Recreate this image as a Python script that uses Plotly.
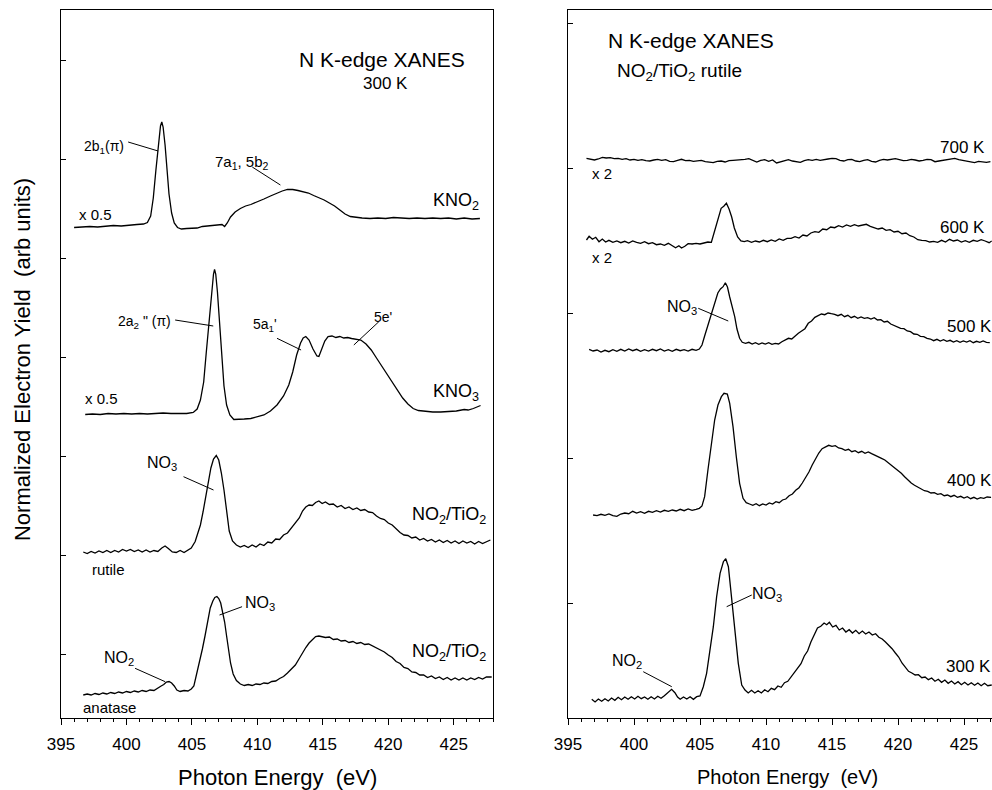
import plotly.graph_objects as go

FONT = "Liberation Sans, Arial, Helvetica, sans-serif"

# ---------------- Left panel data (300 K reference spectra) ----------------
kno2_e = [396.0,396.6,397.2,397.8,398.4,399.0,399.6,400.2,400.8,401.3,
          401.6,401.85,402.05,402.25,402.45,402.6,402.7,402.8,402.95,403.1,
          403.25,403.45,403.65,403.9,404.2,404.6,405.0,405.4,405.8,406.2,
          406.6,407.0,407.3,407.5,407.7,407.95,408.3,408.7,409.1,409.5,
          410.0,410.5,411.0,411.5,411.9,412.3,412.7,413.1,413.5,413.9,
          414.3,414.7,415.1,415.5,415.9,416.3,416.7,417.1,417.5,418.0,
          418.6,419.2,419.8,420.4,421.0,421.6,422.2,422.8,423.4,424.0,
          424.6,425.2,425.8,426.4,427.0]
kno2_y = [4.265,4.27,4.275,4.27,4.28,4.285,4.28,4.29,4.295,4.30,
          4.315,4.38,4.56,4.84,5.12,5.28,5.32,5.27,5.09,4.84,
          4.60,4.41,4.31,4.265,4.25,4.255,4.26,4.26,4.275,4.28,
          4.285,4.295,4.295,4.275,4.31,4.37,4.42,4.455,4.48,4.495,
          4.52,4.55,4.58,4.61,4.63,4.645,4.645,4.635,4.62,4.61,
          4.585,4.565,4.54,4.51,4.48,4.44,4.40,4.375,4.365,4.36,
          4.355,4.36,4.355,4.365,4.36,4.355,4.36,4.355,4.36,4.355,
          4.36,4.35,4.36,4.35,4.355]

kno3_e = [396.85,397.4,398.0,398.6,399.2,399.8,400.4,401.0,401.6,402.2,
          402.8,403.4,404.0,404.6,405.1,405.4,405.65,405.9,406.1,406.3,
          406.5,406.65,406.73,406.82,406.95,407.1,407.25,407.45,407.65,407.9,
          408.2,408.6,409.0,409.5,410.0,410.5,411.0,411.5,412.0,412.4,
          412.7,413.0,413.3,413.5,413.7,413.95,414.25,414.55,414.7,414.9,
          415.15,415.4,415.7,416.0,416.3,416.6,416.9,417.2,417.5,417.9,
          418.3,418.7,419.1,419.5,419.9,420.3,420.7,421.1,421.5,421.9,
          422.3,422.8,423.4,424.0,424.6,425.2,425.8,426.1,426.5,427.05]
kno3_y = [2.395,2.40,2.395,2.405,2.40,2.405,2.40,2.405,2.40,2.405,
          2.41,2.405,2.405,2.405,2.415,2.45,2.54,2.72,3.02,3.32,
          3.64,3.80,3.845,3.80,3.62,3.32,3.02,2.68,2.49,2.39,
          2.345,2.345,2.35,2.355,2.37,2.39,2.43,2.49,2.58,2.69,
          2.82,2.99,3.11,3.16,3.175,3.14,3.05,2.98,2.975,3.04,
          3.13,3.175,3.18,3.165,3.175,3.16,3.165,3.155,3.15,3.14,
          3.10,3.04,2.96,2.88,2.79,2.71,2.63,2.56,2.50,2.455,
          2.435,2.425,2.42,2.42,2.425,2.43,2.445,2.44,2.455,2.485]

rutile_e = [396.7,397.0,397.3,397.6,397.9,398.2,398.5,398.8,399.1,399.4,
            399.7,400.0,400.3,400.6,400.9,401.2,401.5,401.8,402.1,402.4,
            402.7,402.95,403.2,403.5,403.8,404.1,404.4,404.7,404.95,405.25,
            405.45,405.65,405.85,406.05,406.25,406.45,406.65,406.86,407.05,407.25,
            407.45,407.65,407.85,408.1,408.4,408.7,409.0,409.3,409.6,409.9,
            410.2,410.5,410.8,411.1,411.4,411.7,412.0,412.3,412.6,412.9,
            413.2,413.45,413.7,413.95,414.2,414.45,414.7,414.95,415.2,415.5,
            415.8,416.1,416.4,416.7,417.0,417.3,417.6,417.9,418.2,418.5,
            418.8,419.1,419.4,419.7,420.0,420.3,420.6,420.9,421.2,421.5,
            421.8,422.1,422.4,422.7,423.0,423.3,423.6,423.9,424.2,424.5,
            424.8,425.1,425.4,425.7,426.0,426.3,426.6,426.9,427.2,427.5,
            427.8]
rutile_y = [1.02,1.005,1.025,1.01,1.03,1.015,1.035,1.015,1.035,1.02,
            1.045,1.03,1.045,1.025,1.04,1.02,1.04,1.02,1.035,1.025,
            1.06,1.08,1.055,1.02,1.015,1.035,1.015,1.04,1.06,1.125,
            1.20,1.29,1.42,1.57,1.72,1.86,1.95,1.985,1.94,1.81,
            1.64,1.42,1.23,1.13,1.09,1.07,1.085,1.065,1.09,1.07,
            1.10,1.085,1.12,1.11,1.15,1.145,1.19,1.21,1.26,1.30,
            1.36,1.43,1.47,1.49,1.485,1.515,1.53,1.505,1.52,1.495,
            1.50,1.47,1.485,1.455,1.47,1.445,1.46,1.435,1.445,1.42,
            1.415,1.38,1.355,1.345,1.31,1.29,1.25,1.215,1.19,1.185,
            1.16,1.17,1.14,1.155,1.13,1.145,1.12,1.14,1.115,1.135,
            1.11,1.13,1.105,1.13,1.11,1.125,1.10,1.125,1.105,1.125,
            1.14]

anatase_e = [396.7,397.0,397.3,397.6,397.9,398.2,398.5,398.8,399.1,399.4,
             399.7,400.0,400.3,400.6,400.9,401.2,401.5,401.8,402.1,402.4,
             402.65,402.85,403.05,403.25,403.45,403.65,403.85,404.1,404.4,404.7,
             404.95,405.15,405.38,405.6,405.8,406.0,406.2,406.4,406.6,406.75,
             406.91,407.05,407.2,407.35,407.5,407.65,407.8,407.95,408.15,408.4,
             408.7,409.0,409.3,409.6,409.9,410.2,410.5,410.8,411.1,411.4,
             411.7,412.0,412.3,412.6,412.9,413.2,413.45,413.7,413.95,414.2,
             414.45,414.7,414.95,415.2,415.5,415.8,416.1,416.4,416.7,417.0,
             417.3,417.6,417.9,418.2,418.5,418.8,419.1,419.4,419.7,420.0,
             420.3,420.6,420.9,421.2,421.5,421.8,422.1,422.4,422.7,423.0,
             423.3,423.6,423.9,424.2,424.5,424.8,425.1,425.4,425.7,426.0,
             426.3,426.6,426.9,427.2,427.5,427.9]
anatase_y = [-0.41,-0.40,-0.41,-0.395,-0.405,-0.39,-0.40,-0.385,-0.395,-0.38,
             -0.39,-0.375,-0.385,-0.37,-0.38,-0.365,-0.375,-0.36,-0.365,-0.345,
             -0.32,-0.305,-0.28,-0.275,-0.29,-0.32,-0.36,-0.375,-0.365,-0.37,
             -0.35,-0.32,-0.195,-0.07,0.05,0.18,0.33,0.46,0.53,0.565,
             0.575,0.555,0.51,0.43,0.32,0.18,0.04,-0.09,-0.20,-0.265,
             -0.30,-0.315,-0.305,-0.315,-0.30,-0.305,-0.29,-0.295,-0.275,-0.27,
             -0.245,-0.225,-0.19,-0.155,-0.11,-0.045,0.015,0.065,0.11,0.145,
             0.175,0.18,0.175,0.165,0.17,0.145,0.15,0.13,0.135,0.115,
             0.125,0.105,0.115,0.095,0.10,0.08,0.065,0.04,0.02,-0.01,
             -0.035,-0.075,-0.095,-0.135,-0.145,-0.18,-0.185,-0.21,-0.21,-0.235,
             -0.22,-0.245,-0.23,-0.255,-0.235,-0.26,-0.24,-0.26,-0.24,-0.26,
             -0.24,-0.255,-0.235,-0.25,-0.23,-0.23]

# ---------------- Right panel data (NO2/TiO2 rutile vs temperature) ----------------
k700_e = [396.4,396.7,397.0,397.3,397.6,397.9,398.2,398.5,398.8,399.1,
          399.4,399.7,400.0,400.3,400.6,400.9,401.2,401.5,401.8,402.1,
          402.4,402.7,403.0,403.3,403.6,403.9,404.2,404.5,404.8,405.1,
          405.4,405.7,406.0,406.3,406.6,406.9,407.2,407.5,407.8,408.1,
          408.4,408.7,409.0,409.3,409.6,409.9,410.2,410.5,410.8,411.1,
          411.4,411.7,412.0,412.3,412.6,412.9,413.2,413.5,413.8,414.1,
          414.4,414.7,415.0,415.3,415.6,415.9,416.2,416.5,416.8,417.1,
          417.4,417.7,418.0,418.3,418.6,418.9,419.2,419.5,419.8,420.1,
          420.4,420.7,421.0,421.3,421.6,421.9,422.2,422.5,422.8,423.1,
          423.4,423.7,424.0,424.3,424.6,424.9,425.2,425.5,425.8,426.1,
          426.4,426.7,427.0]
k700_y = [4.447,4.437,4.43,4.44,4.457,4.45,4.453,4.443,4.447,4.437,
          4.443,4.43,4.437,4.427,4.433,4.423,4.42,4.43,4.437,4.427,
          4.433,4.417,4.413,4.427,4.437,4.423,4.427,4.417,4.42,4.427,
          4.413,4.407,4.403,4.417,4.42,4.41,4.423,4.427,4.43,4.427,
          4.437,4.443,4.423,4.41,4.427,4.433,4.417,4.43,4.40,4.413,
          4.427,4.433,4.42,4.413,4.407,4.423,4.433,4.427,4.437,4.427,
          4.437,4.44,4.447,4.443,4.427,4.42,4.433,4.437,4.42,4.413,
          4.427,4.433,4.417,4.41,4.427,4.437,4.43,4.44,4.443,4.433,
          4.423,4.427,4.437,4.43,4.42,4.427,4.437,4.433,4.413,4.42,
          4.427,4.437,4.443,4.447,4.433,4.427,4.42,4.41,4.403,4.417,
          4.413,4.407,4.413]

k600_e = [396.4,396.6,396.85,397.1,397.35,397.6,397.85,398.1,398.4,398.7,
          399.0,399.3,399.6,399.9,400.2,400.5,400.8,401.1,401.4,401.7,
          402.0,402.3,402.6,402.9,403.15,403.4,403.6,403.85,404.1,404.4,
          404.7,405.0,405.3,405.6,405.86,406.05,406.24,406.45,406.6,406.8,
          407.0,407.2,407.4,407.6,407.85,408.1,408.35,408.6,408.9,409.2,
          409.5,409.8,410.1,410.4,410.7,411.0,411.3,411.6,411.9,412.2,
          412.5,412.8,413.1,413.4,413.7,414.0,414.3,414.6,414.9,415.2,
          415.5,415.8,416.1,416.4,416.7,417.0,417.3,417.6,417.9,418.2,
          418.5,418.8,419.1,419.4,419.7,420.0,420.3,420.6,420.9,421.2,
          421.5,421.8,422.1,422.4,422.7,423.0,423.3,423.6,423.9,424.2,
          424.5,424.8,425.1,425.4,425.7,426.0,426.3,426.6,426.9,427.1]
k600_y = [3.63,3.667,3.637,3.657,3.613,3.64,3.61,3.627,3.607,3.62,
          3.603,3.617,3.60,3.62,3.607,3.597,3.613,3.593,3.603,3.583,
          3.59,3.577,3.597,3.573,3.553,3.573,3.55,3.567,3.593,3.59,
          3.597,3.59,3.60,3.61,3.607,3.70,3.78,3.88,3.947,3.967,
          3.997,3.94,3.86,3.75,3.66,3.62,3.613,3.623,3.607,3.62,
          3.61,3.627,3.613,3.63,3.617,3.64,3.627,3.647,3.647,3.663,
          3.65,3.68,3.67,3.70,3.713,3.707,3.74,3.733,3.76,3.753,
          3.773,3.76,3.78,3.767,3.783,3.77,3.777,3.787,3.767,3.757,
          3.74,3.75,3.727,3.733,3.71,3.717,3.693,3.70,3.673,3.66,
          3.633,3.627,3.623,3.61,3.617,3.607,3.627,3.61,3.637,3.62,
          3.63,3.61,3.623,3.607,3.627,3.617,3.633,3.62,3.603,3.62]

k500_e = [396.6,396.9,397.2,397.5,397.8,398.1,398.4,398.7,399.0,399.3,
          399.6,399.9,400.2,400.5,400.8,401.1,401.4,401.7,402.0,402.3,
          402.6,402.9,403.2,403.5,403.8,404.1,404.4,404.7,404.95,405.15,
          405.35,405.55,405.75,405.95,406.15,406.35,406.55,406.75,406.92,407.08,
          407.25,407.45,407.63,407.8,408.0,408.2,408.45,408.7,408.95,409.2,
          409.45,409.7,409.95,410.2,410.45,410.7,410.95,411.2,411.45,411.7,
          411.95,412.2,412.45,412.7,412.95,413.2,413.45,413.7,413.95,414.2,
          414.45,414.7,414.95,415.2,415.45,415.7,415.95,416.2,416.45,416.7,
          416.95,417.2,417.45,417.7,417.95,418.2,418.45,418.7,418.95,419.2,
          419.45,419.7,419.95,420.2,420.45,420.7,420.95,421.2,421.45,421.7,
          421.95,422.2,422.45,422.7,422.95,423.2,423.45,423.7,423.95,424.2,
          424.45,424.7,424.95,425.2,425.45,425.7,425.95,426.2,426.45,426.7,
          426.95]
k500_y = [2.537,2.52,2.53,2.51,2.527,2.513,2.533,2.517,2.537,2.52,
          2.54,2.523,2.537,2.517,2.533,2.52,2.537,2.523,2.54,2.52,
          2.533,2.517,2.537,2.523,2.533,2.52,2.537,2.527,2.54,2.58,
          2.67,2.76,2.85,2.93,3.02,3.10,3.14,3.163,3.203,3.16,
          3.06,2.96,2.863,2.74,2.647,2.607,2.597,2.607,2.59,2.603,
          2.587,2.60,2.59,2.603,2.587,2.597,2.59,2.613,2.627,2.647,
          2.64,2.673,2.697,2.72,2.743,2.797,2.82,2.857,2.87,2.89,
          2.883,2.90,2.893,2.887,2.873,2.887,2.863,2.877,2.853,2.867,
          2.847,2.86,2.847,2.853,2.84,2.853,2.83,2.833,2.81,2.817,
          2.79,2.777,2.767,2.747,2.743,2.72,2.713,2.69,2.687,2.667,
          2.663,2.647,2.64,2.623,2.637,2.62,2.633,2.617,2.627,2.61,
          2.623,2.607,2.62,2.61,2.623,2.603,2.617,2.607,2.62,2.607,
          2.603]

k400_e = [396.9,397.2,397.5,397.8,398.1,398.4,398.7,399.0,399.3,399.6,
          399.9,400.2,400.5,400.8,401.1,401.4,401.7,402.0,402.3,402.6,
          402.9,403.2,403.5,403.8,404.1,404.4,404.7,404.95,405.15,405.35,
          405.6,405.86,406.11,406.36,406.62,406.82,407.07,407.25,407.5,407.75,
          408.0,408.26,408.5,408.75,409.0,409.25,409.5,409.75,410.0,410.25,
          410.5,410.75,411.0,411.25,411.5,411.75,412.0,412.25,412.5,412.75,
          413.0,413.25,413.5,413.75,414.0,414.25,414.5,414.75,415.0,415.25,
          415.5,415.75,416.0,416.25,416.5,416.75,417.0,417.25,417.5,417.75,
          418.0,418.25,418.5,418.75,419.0,419.25,419.5,419.75,420.0,420.25,
          420.5,420.75,421.0,421.25,421.5,421.75,422.0,422.25,422.5,422.75,
          423.0,423.25,423.5,423.75,424.0,424.25,424.5,424.75,425.0,425.25,
          425.5,425.75,426.0,426.25,426.5,426.75,427.05]
k400_y = [0.88,0.873,0.887,0.877,0.89,0.873,0.867,0.89,0.90,0.893,
          0.917,0.90,0.913,0.897,0.917,0.907,0.923,0.91,0.927,0.917,
          0.93,0.92,0.937,0.923,0.94,0.927,0.937,0.947,0.97,1.063,
          1.33,1.597,1.83,1.98,2.063,2.097,2.09,1.997,1.763,1.463,
          1.197,1.047,1.003,0.99,0.977,0.993,0.973,0.99,0.98,1.00,
          0.99,1.013,1.003,1.03,1.04,1.073,1.09,1.127,1.153,1.20,
          1.25,1.31,1.38,1.44,1.50,1.543,1.563,1.577,1.567,1.573,
          1.55,1.543,1.527,1.537,1.513,1.523,1.503,1.517,1.497,1.51,
          1.493,1.48,1.463,1.447,1.43,1.403,1.383,1.357,1.33,1.297,
          1.263,1.23,1.20,1.177,1.157,1.14,1.123,1.117,1.10,1.103,
          1.087,1.093,1.073,1.08,1.063,1.077,1.057,1.067,1.05,1.063,
          1.043,1.057,1.04,1.053,1.047,1.06,1.057]

k300_e = [396.8,397.05,397.3,397.55,397.8,398.05,398.3,398.55,398.8,399.05,
          399.3,399.55,399.8,400.05,400.3,400.55,400.8,401.05,401.3,401.55,
          401.8,402.05,402.3,402.6,402.85,403.1,403.3,403.5,403.75,404.0,
          404.25,404.5,404.75,405.0,405.25,405.5,405.76,406.01,406.26,406.52,
          406.77,406.95,407.15,407.4,407.65,407.9,408.16,408.41,408.65,408.9,
          409.15,409.4,409.65,409.9,410.15,410.4,410.65,410.9,411.15,411.4,
          411.65,411.9,412.15,412.4,412.65,412.9,413.15,413.4,413.65,413.9,
          414.15,414.4,414.6,414.8,415.05,415.3,415.55,415.8,416.05,416.3,
          416.55,416.8,417.05,417.3,417.55,417.8,418.05,418.3,418.55,418.8,
          419.05,419.3,419.55,419.8,420.05,420.3,420.55,420.8,421.05,421.3,
          421.55,421.8,422.05,422.3,422.55,422.8,423.05,423.3,423.55,423.8,
          424.05,424.3,424.55,424.8,425.05,425.3,425.55,425.8,426.05,426.3,
          426.55,426.8,427.1]
k300_y = [-0.963,-0.99,-0.96,-0.983,-0.957,-0.98,-0.95,-0.973,-0.943,-0.967,
          -0.94,-0.963,-0.937,-0.96,-0.933,-0.957,-0.94,-0.963,-0.937,-0.96,
          -0.933,-0.953,-0.927,-0.887,-0.863,-0.897,-0.94,-0.963,-0.94,-0.96,
          -0.937,-0.963,-0.937,-0.93,-0.837,-0.703,-0.47,-0.237,0.063,0.297,
          0.413,0.443,0.363,0.063,-0.27,-0.603,-0.82,-0.87,-0.90,-0.873,
          -0.90,-0.877,-0.90,-0.867,-0.887,-0.853,-0.867,-0.83,-0.843,-0.797,
          -0.783,-0.737,-0.70,-0.643,-0.607,-0.53,-0.48,-0.39,-0.32,-0.25,
          -0.233,-0.20,-0.217,-0.193,-0.24,-0.223,-0.27,-0.25,-0.29,-0.267,
          -0.30,-0.273,-0.307,-0.28,-0.31,-0.29,-0.32,-0.307,-0.343,-0.36,
          -0.39,-0.42,-0.457,-0.50,-0.54,-0.60,-0.643,-0.683,-0.70,-0.72,
          -0.717,-0.747,-0.74,-0.767,-0.75,-0.783,-0.763,-0.793,-0.77,-0.803,
          -0.78,-0.81,-0.787,-0.817,-0.793,-0.82,-0.797,-0.823,-0.80,-0.827,
          -0.803,-0.827,-0.82]

x_tick_vals = [395, 400, 405, 410, 415, 420, 425]
x_tick_text = ["395", "400", "405", "410", "415", "420", "425"]

# ---------------- Text labels ----------------
left_labels = [
    ("N K-edge XANES", 419.5, 5.95, 21),
    ("300 K", 419.8, 5.71, 17),
    ("2b<sub>1</sub>(\u03c0)", 398.3, 5.07, 14),
    ("7a<sub>1</sub>, 5b<sub>2</sub>", 408.85, 4.92, 15),
    ("x 0.5", 397.6, 4.40, 15),
    ("KNO<sub>2</sub>", 425.2, 4.53, 18),
    ("2a<sub>2</sub> \" (\u03c0)", 401.35, 3.32, 14),
    ("5a<sub>1</sub>'", 410.6, 3.29, 14),
    ("5e'", 419.56, 3.37, 14),
    ("x 0.5", 398.06, 2.557, 15),
    ("KNO<sub>3</sub>", 425.15, 2.62, 18),
    ("NO<sub>3</sub>", 402.73, 1.91, 16),
    ("NO<sub>2</sub>/TiO<sub>2</sub>", 424.65, 1.39, 18),
    ("rutile", 398.63, 0.85, 15),
    ("NO<sub>3</sub>", 410.2, 0.51, 16),
    ("NO<sub>2</sub>/TiO<sub>2</sub>", 424.65, 0.02, 18),
    ("NO<sub>2</sub>", 399.44, -0.04, 16),
    ("anatase", 398.71, -0.53, 15),
]
left_leaders = [
    (400.13, 5.12, 402.42, 5.03),
    (409.61, 4.87, 411.76, 4.69),
    (403.72, 3.34, 406.63, 3.28),
    (411.5, 3.157, 413.34, 3.04),
    (419.28, 3.323, 417.37, 3.09),
    (404.36, 1.773, 406.65, 1.64),
    (408.83, 0.473, 407.11, 0.39),
    (400.66, -0.143, 402.96, -0.277),
]
right_labels = [
    ("N K-edge XANES", 404.28, 5.63, 21),
    ("NO<sub>2</sub>/TiO<sub>2</sub> rutile", 403.48, 5.31, 19),
    ("700 K", 424.92, 4.56, 17),
    ("x 2", 397.61, 4.30, 15),
    ("600 K", 424.92, 3.76, 17),
    ("x 2", 397.61, 3.46, 15),
    ("NO<sub>3</sub>", 403.64, 2.96, 16),
    ("500 K", 425.38, 2.77, 17),
    ("400 K", 425.38, 1.23, 17),
    ("NO<sub>3</sub>", 410.11, 0.09, 16),
    ("NO<sub>2</sub>", 399.47, -0.58, 16),
    ("300 K", 425.34, -0.63, 17),
]
right_leaders = [
    (404.87, 2.947, 407.14, 2.82),
    (408.92, 0.08, 407.02, -0.037),
    (400.7, -0.687, 402.86, -0.837),
]

# ---------------- Figure ----------------
fig = go.Figure()
line_style = dict(color="black", width=1.3)
for e, y in [(kno2_e, kno2_y), (kno3_e, kno3_y), (rutile_e, rutile_y), (anatase_e, anatase_y)]:
    fig.add_trace(go.Scatter(x=e, y=y, mode="lines", line=line_style,
                             xaxis="x", yaxis="y", showlegend=False, hoverinfo="skip"))
for e, y in [(k700_e, k700_y), (k600_e, k600_y), (k500_e, k500_y), (k400_e, k400_y), (k300_e, k300_y)]:
    fig.add_trace(go.Scatter(x=e, y=y, mode="lines", line=line_style,
                             xaxis="x2", yaxis="y2", showlegend=False, hoverinfo="skip"))

annotations = []
for txt, x, y, s in left_labels:
    annotations.append(dict(text=txt, x=x, y=y, xref="x", yref="y", showarrow=False,
                            xanchor="center", yanchor="middle",
                            font=dict(family=FONT, size=s, color="black")))
for txt, x, y, s in right_labels:
    annotations.append(dict(text=txt, x=x, y=y, xref="x2", yref="y2", showarrow=False,
                            xanchor="center", yanchor="middle",
                            font=dict(family=FONT, size=s, color="black")))
annotations += [
    dict(text="Photon Energy\u00a0 (eV)", x=277.5/992, y=-0.0847, xref="paper", yref="paper",
         xanchor="center", yanchor="middle", showarrow=False,
         font=dict(family=FONT, size=22, color="black")),
    dict(text="Photon Energy\u00a0 (eV)", x=787.5/992, y=-0.0833, xref="paper", yref="paper",
         xanchor="center", yanchor="middle", showarrow=False,
         font=dict(family=FONT, size=20, color="black")),
    dict(text="Normalized Electron Yield\u00a0 (arb units)", x=22/992, y=0.5056,
         xref="paper", yref="paper", textangle=-90, xanchor="center", yanchor="middle",
         showarrow=False, font=dict(family=FONT, size=22, color="black")),
]

shapes = []
for x0, y0, x1, y1 in left_leaders:
    shapes.append(dict(type="line", xref="x", yref="y", x0=x0, y0=y0, x1=x1, y1=y1,
                       line=dict(color="black", width=1)))
for x0, y0, x1, y1 in right_leaders:
    shapes.append(dict(type="line", xref="x2", yref="y2", x0=x0, y0=y0, x1=x1, y1=y1,
                       line=dict(color="black", width=1)))

xaxis_common = dict(tickmode="array", tickvals=x_tick_vals, ticktext=x_tick_text,
                    ticks="outside", ticklen=6, tickwidth=1.2, tickcolor="black",
                    minor=dict(dtick=1, ticks="outside", ticklen=3, tickwidth=1, tickcolor="black"),
                    showline=True, linecolor="black", linewidth=1.3, mirror=True,
                    showgrid=False, zeroline=False, automargin=False, ticklabelstandoff=4,
                    tickfont=dict(family=FONT, size=17, color="black"))
yaxis_common = dict(ticks="inside", ticklen=5, tickwidth=1.2, tickcolor="black",
                    showticklabels=False, showline=True, linecolor="black", linewidth=1.3,
                    showgrid=False, zeroline=False, automargin=False, domain=[0, 1])

fig.update_layout(
    width=992, height=790,
    margin=dict(l=0, r=0, t=10, b=72, pad=0),
    paper_bgcolor="white", plot_bgcolor="white",
    showlegend=False,
    xaxis=dict(domain=[61/992, 493/992], range=[395, 428], anchor="y", **xaxis_common),
    yaxis=dict(range=[-0.64, 6.44], tick0=0, dtick=0.99, anchor="x", mirror=True, **yaxis_common),
    xaxis2=dict(domain=[568/992, 1.0], range=[395, 427.12], anchor="y2", **xaxis_common),
    yaxis2=dict(range=[-1.15, 5.93], tick0=0, dtick=1.45, anchor="x2", mirror=False, **yaxis_common),
    annotations=annotations,
    shapes=shapes,
)

fig.write_html("out.html", config={"displayModeBar": False},
               post_script="document.body.style.margin='0';document.body.style.overflow='hidden';")
